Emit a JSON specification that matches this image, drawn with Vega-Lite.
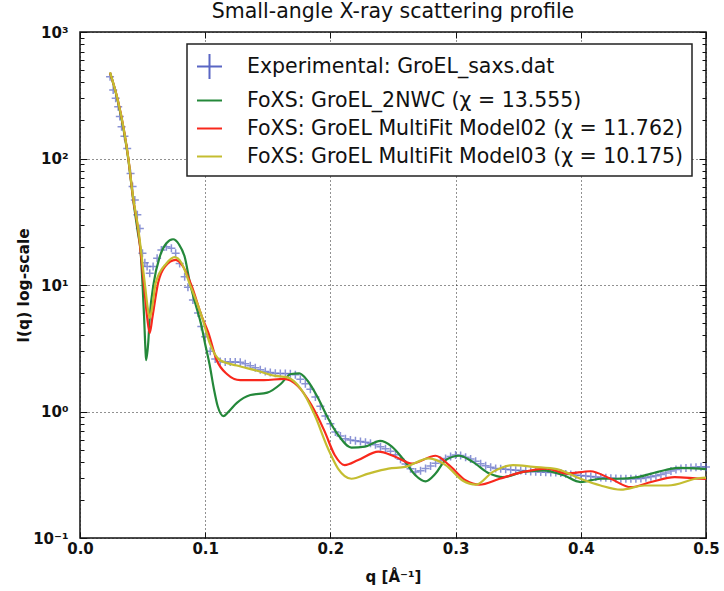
{
  "$schema": "https://vega.github.io/schema/vega-lite/v6.json",
  "width": 626,
  "height": 506,
  "autosize": "none",
  "padding": {"left": 80, "top": 32, "right": 18, "bottom": 53},
  "background": "white",
  "title": {"text": "Small-angle X-ray scattering profile", "fontSize": 20.5, "font": "DejaVu Sans", "fontWeight": "normal", "color": "#111", "anchor": "middle", "offset": 3},
  "data": {"values": [
    {"s":"exp","q":0.024,"I":443},{"s":"exp","q":0.0265,"I":348},{"s":"exp","q":0.0285,"I":300},{"s":"exp","q":0.0305,"I":257},{"s":"exp","q":0.0318,"I":215},{"s":"exp","q":0.0332,"I":178},{"s":"exp","q":0.0355,"I":150},{"s":"exp","q":0.0377,"I":120},{"s":"exp","q":0.0404,"I":76},{"s":"exp","q":0.042,"I":60},{"s":"exp","q":0.0438,"I":47},{"s":"exp","q":0.0458,"I":36},{"s":"exp","q":0.0478,"I":28},{"s":"exp","q":0.0499,"I":17.8},{"s":"exp","q":0.0518,"I":15},{"s":"exp","q":0.0536,"I":14},{"s":"exp","q":0.0557,"I":12.4},{"s":"exp","q":0.0584,"I":14},{"s":"exp","q":0.0616,"I":16.3},{"s":"exp","q":0.065,"I":18.9},{"s":"exp","q":0.069,"I":20.1},{"s":"exp","q":0.073,"I":19.5},{"s":"exp","q":0.0764,"I":17.8},{"s":"exp","q":0.0796,"I":14.8},{"s":"exp","q":0.0836,"I":11.6},{"s":"exp","q":0.0862,"I":9.6},{"s":"exp","q":0.0902,"I":7.6},{"s":"exp","q":0.0943,"I":6.0},{"s":"exp","q":0.0969,"I":4.7},
    {"s":"exp","q":0.100,"I":3.9},{"s":"exp","q":0.104,"I":3.0},{"s":"exp","q":0.108,"I":2.6},{"s":"exp","q":0.112,"I":2.48},{"s":"exp","q":0.116,"I":2.46},{"s":"exp","q":0.120,"I":2.46},{"s":"exp","q":0.124,"I":2.46},{"s":"exp","q":0.128,"I":2.45},{"s":"exp","q":0.132,"I":2.38},{"s":"exp","q":0.136,"I":2.3},{"s":"exp","q":0.140,"I":2.22},{"s":"exp","q":0.144,"I":2.14},{"s":"exp","q":0.148,"I":2.07},{"s":"exp","q":0.152,"I":2.03},{"s":"exp","q":0.156,"I":2.01},{"s":"exp","q":0.160,"I":2.0},{"s":"exp","q":0.164,"I":2.0},{"s":"exp","q":0.168,"I":1.99},{"s":"exp","q":0.172,"I":1.95},{"s":"exp","q":0.176,"I":1.8},{"s":"exp","q":0.180,"I":1.66},{"s":"exp","q":0.184,"I":1.5},{"s":"exp","q":0.188,"I":1.3},{"s":"exp","q":0.192,"I":1.1},{"s":"exp","q":0.196,"I":0.92},{"s":"exp","q":0.200,"I":0.8},{"s":"exp","q":0.204,"I":0.69},{"s":"exp","q":0.208,"I":0.64},{"s":"exp","q":0.212,"I":0.61},{"s":"exp","q":0.216,"I":0.595},{"s":"exp","q":0.220,"I":0.587},{"s":"exp","q":0.224,"I":0.58},{"s":"exp","q":0.228,"I":0.572},{"s":"exp","q":0.232,"I":0.56},{"s":"exp","q":0.236,"I":0.545},{"s":"exp","q":0.240,"I":0.527},{"s":"exp","q":0.244,"I":0.507},{"s":"exp","q":0.248,"I":0.485},{"s":"exp","q":0.252,"I":0.455},{"s":"exp","q":0.256,"I":0.42},{"s":"exp","q":0.260,"I":0.385},{"s":"exp","q":0.264,"I":0.352},{"s":"exp","q":0.268,"I":0.333},{"s":"exp","q":0.272,"I":0.34},{"s":"exp","q":0.276,"I":0.355},{"s":"exp","q":0.280,"I":0.37},{"s":"exp","q":0.284,"I":0.39},{"s":"exp","q":0.288,"I":0.41},{"s":"exp","q":0.292,"I":0.425},{"s":"exp","q":0.296,"I":0.44},{"s":"exp","q":0.300,"I":0.453},{"s":"exp","q":0.304,"I":0.448},{"s":"exp","q":0.308,"I":0.435},{"s":"exp","q":0.312,"I":0.422},{"s":"exp","q":0.316,"I":0.405},{"s":"exp","q":0.320,"I":0.386},{"s":"exp","q":0.324,"I":0.372},{"s":"exp","q":0.328,"I":0.362},{"s":"exp","q":0.332,"I":0.355},{"s":"exp","q":0.336,"I":0.352},{"s":"exp","q":0.340,"I":0.349},{"s":"exp","q":0.344,"I":0.346},{"s":"exp","q":0.348,"I":0.344},{"s":"exp","q":0.352,"I":0.341},{"s":"exp","q":0.356,"I":0.339},{"s":"exp","q":0.360,"I":0.336},{"s":"exp","q":0.364,"I":0.334},{"s":"exp","q":0.368,"I":0.332},{"s":"exp","q":0.372,"I":0.331},{"s":"exp","q":0.376,"I":0.33},{"s":"exp","q":0.380,"I":0.329},{"s":"exp","q":0.384,"I":0.326},{"s":"exp","q":0.388,"I":0.321},{"s":"exp","q":0.392,"I":0.317},{"s":"exp","q":0.396,"I":0.314},{"s":"exp","q":0.400,"I":0.312},{"s":"exp","q":0.404,"I":0.309},{"s":"exp","q":0.408,"I":0.306},{"s":"exp","q":0.412,"I":0.304},{"s":"exp","q":0.416,"I":0.301},{"s":"exp","q":0.420,"I":0.299},{"s":"exp","q":0.424,"I":0.297},{"s":"exp","q":0.428,"I":0.295},{"s":"exp","q":0.432,"I":0.294},{"s":"exp","q":0.436,"I":0.294},{"s":"exp","q":0.440,"I":0.294},{"s":"exp","q":0.444,"I":0.294},{"s":"exp","q":0.448,"I":0.296},{"s":"exp","q":0.452,"I":0.3},{"s":"exp","q":0.456,"I":0.305},{"s":"exp","q":0.460,"I":0.31},{"s":"exp","q":0.464,"I":0.317},{"s":"exp","q":0.468,"I":0.327},{"s":"exp","q":0.472,"I":0.338},{"s":"exp","q":0.476,"I":0.348},{"s":"exp","q":0.480,"I":0.355},{"s":"exp","q":0.484,"I":0.358},{"s":"exp","q":0.488,"I":0.361},{"s":"exp","q":0.492,"I":0.363},{"s":"exp","q":0.496,"I":0.365},{"s":"exp","q":0.500,"I":0.364},

    {"s":"g","q":0.024,"I":476},{"s":"g","q":0.030,"I":290},{"s":"g","q":0.035,"I":165},{"s":"g","q":0.0385,"I":100},{"s":"g","q":0.0425,"I":47},{"s":"g","q":0.0465,"I":25},{"s":"g","q":0.0483,"I":18.9},{"s":"g","q":0.0499,"I":10.4},{"s":"g","q":0.0512,"I":5.6},{"s":"g","q":0.0523,"I":3.06},{"s":"g","q":0.0528,"I":2.55},{"s":"g","q":0.0545,"I":3.5},{"s":"g","q":0.0557,"I":5.6},{"s":"g","q":0.0589,"I":10.4},{"s":"g","q":0.0637,"I":16.7},{"s":"g","q":0.069,"I":21.4},{"s":"g","q":0.0743,"I":23},{"s":"g","q":0.079,"I":21},{"s":"g","q":0.0836,"I":16.7},{"s":"g","q":0.088,"I":10.2},{"s":"g","q":0.092,"I":7.2},{"s":"g","q":0.0969,"I":4.8},{"s":"g","q":0.100,"I":3.4},{"s":"g","q":0.1035,"I":2.35},{"s":"g","q":0.107,"I":1.5},{"s":"g","q":0.110,"I":1.1},{"s":"g","q":0.1146,"I":0.92},{"s":"g","q":0.118,"I":0.98},{"s":"g","q":0.1253,"I":1.17},{"s":"g","q":0.1361,"I":1.35},{"s":"g","q":0.1496,"I":1.41},{"s":"g","q":0.1603,"I":1.65},{"s":"g","q":0.1684,"I":1.98},{"s":"g","q":0.1751,"I":2.0},{"s":"g","q":0.1818,"I":1.75},{"s":"g","q":0.1899,"I":1.29},{"s":"g","q":0.198,"I":0.89},{"s":"g","q":0.2061,"I":0.655},{"s":"g","q":0.2168,"I":0.519},{"s":"g","q":0.2276,"I":0.528},{"s":"g","q":0.2397,"I":0.586},{"s":"g","q":0.2491,"I":0.528},{"s":"g","q":0.2598,"I":0.40},{"s":"g","q":0.2679,"I":0.313},{"s":"g","q":0.276,"I":0.28},{"s":"g","q":0.284,"I":0.323},{"s":"g","q":0.2921,"I":0.413},{"s":"g","q":0.3029,"I":0.447},{"s":"g","q":0.3136,"I":0.40},{"s":"g","q":0.3271,"I":0.323},{"s":"g","q":0.3378,"I":0.303},{"s":"g","q":0.354,"I":0.333},{"s":"g","q":0.3701,"I":0.343},{"s":"g","q":0.3863,"I":0.313},{"s":"g","q":0.3997,"I":0.277},{"s":"g","q":0.4158,"I":0.294},{"s":"g","q":0.4293,"I":0.294},{"s":"g","q":0.4454,"I":0.303},{"s":"g","q":0.4616,"I":0.333},{"s":"g","q":0.4777,"I":0.358},{"s":"g","q":0.4952,"I":0.354},{"s":"g","q":0.500,"I":0.350},

    {"s":"r","q":0.024,"I":476},{"s":"r","q":0.030,"I":295},{"s":"r","q":0.035,"I":170},{"s":"r","q":0.0385,"I":102},{"s":"r","q":0.0425,"I":48},{"s":"r","q":0.0465,"I":27},{"s":"r","q":0.0509,"I":10.4},{"s":"r","q":0.0536,"I":5.6},{"s":"r","q":0.0557,"I":4.17},{"s":"r","q":0.0579,"I":5.6},{"s":"r","q":0.0624,"I":10.4},{"s":"r","q":0.0679,"I":14},{"s":"r","q":0.0764,"I":15.8},{"s":"r","q":0.0823,"I":14},{"s":"r","q":0.0889,"I":10},{"s":"r","q":0.0974,"I":5.6},{"s":"r","q":0.1025,"I":4.2},{"s":"r","q":0.1092,"I":2.54},{"s":"r","q":0.1173,"I":1.98},{"s":"r","q":0.128,"I":1.77},{"s":"r","q":0.1469,"I":1.77},{"s":"r","q":0.163,"I":1.81},{"s":"r","q":0.1737,"I":1.6},{"s":"r","q":0.1845,"I":1.14},{"s":"r","q":0.1953,"I":0.70},{"s":"r","q":0.2034,"I":0.453},{"s":"r","q":0.2114,"I":0.377},{"s":"r","q":0.2222,"I":0.413},{"s":"r","q":0.2383,"I":0.481},{"s":"r","q":0.2518,"I":0.439},{"s":"r","q":0.2652,"I":0.388},{"s":"r","q":0.284,"I":0.447},{"s":"r","q":0.2948,"I":0.377},{"s":"r","q":0.3082,"I":0.285},{"s":"r","q":0.319,"I":0.264},{"s":"r","q":0.3351,"I":0.294},{"s":"r","q":0.354,"I":0.333},{"s":"r","q":0.3728,"I":0.354},{"s":"r","q":0.3889,"I":0.323},{"s":"r","q":0.4077,"I":0.337},{"s":"r","q":0.4239,"I":0.294},{"s":"r","q":0.44,"I":0.252},{"s":"r","q":0.4562,"I":0.277},{"s":"r","q":0.475,"I":0.303},{"s":"r","q":0.4952,"I":0.294},{"s":"r","q":0.5,"I":0.293},

    {"s":"y","q":0.024,"I":480},{"s":"y","q":0.030,"I":295},{"s":"y","q":0.035,"I":170},{"s":"y","q":0.0385,"I":102},{"s":"y","q":0.0425,"I":49},{"s":"y","q":0.0465,"I":28},{"s":"y","q":0.0517,"I":10.4},{"s":"y","q":0.0544,"I":6.3},{"s":"y","q":0.0557,"I":5.5},{"s":"y","q":0.0575,"I":6.5},{"s":"y","q":0.0605,"I":10.4},{"s":"y","q":0.069,"I":14.8},{"s":"y","q":0.0755,"I":16.6},{"s":"y","q":0.081,"I":15},{"s":"y","q":0.0873,"I":10.4},{"s":"y","q":0.0974,"I":5.6},{"s":"y","q":0.1038,"I":3.44},{"s":"y","q":0.1119,"I":2.54},{"s":"y","q":0.1253,"I":2.31},{"s":"y","q":0.1415,"I":2.1},{"s":"y","q":0.155,"I":1.92},{"s":"y","q":0.1657,"I":1.86},{"s":"y","q":0.1765,"I":1.5},{"s":"y","q":0.1872,"I":0.95},{"s":"y","q":0.198,"I":0.512},{"s":"y","q":0.2061,"I":0.354},{"s":"y","q":0.2168,"I":0.294},{"s":"y","q":0.2303,"I":0.323},{"s":"y","q":0.2464,"I":0.354},{"s":"y","q":0.2598,"I":0.365},{"s":"y","q":0.2787,"I":0.426},{"s":"y","q":0.2921,"I":0.377},{"s":"y","q":0.3055,"I":0.285},{"s":"y","q":0.3163,"I":0.264},{"s":"y","q":0.3297,"I":0.333},{"s":"y","q":0.3459,"I":0.377},{"s":"y","q":0.362,"I":0.365},{"s":"y","q":0.3808,"I":0.35},{"s":"y","q":0.3997,"I":0.294},{"s":"y","q":0.4158,"I":0.26},{"s":"y","q":0.432,"I":0.241},{"s":"y","q":0.4508,"I":0.26},{"s":"y","q":0.4696,"I":0.26},{"s":"y","q":0.4952,"I":0.298},{"s":"y","q":0.5,"I":0.30}
  ]},
  "layer": [
    {
      "transform": [{"filter": "datum.s == 'exp'"}],
      "mark": {"type": "point", "filled": false, "size": 64, "strokeWidth": 1.5, "opacity": 0.7},
      "encoding": {
        "x": {"field": "q", "type": "quantitative", "scale": {"domain": [0, 0.5], "nice": false, "zero": false},
          "axis": {"orient": "bottom", "values": [0, 0.1, 0.2, 0.3, 0.4, 0.5], "format": ".1f", "title": "q [Å⁻¹]", "tickSize": -6, "labelPadding": 9, "labelFlush": false, "grid": true, "titlePadding": 13}},
        "y": {"field": "I", "type": "quantitative", "scale": {"type": "log", "domain": [0.1, 1000], "nice": false},
          "axis": {"orient": "left", "values": [0.1,0.2,0.3,0.4,0.5,0.6,0.7,0.8,0.9,1,2,3,4,5,6,7,8,9,10,20,30,40,50,60,70,80,90,100,200,300,400,500,600,700,800,900,1000],
            "labelExpr": "datum.value == 1000 ? '10³' : datum.value == 100 ? '10²' : datum.value == 10 ? '10¹' : datum.value == 1 ? '10⁰' : datum.value == 0.1 ? '10⁻¹' : ''",
            "labelOverlap": false, "title": "I(q) log-scale", "titleFontSize": 15.5, "titlePadding": 1, "labelPadding": 19,
            "tickSize": {"condition": {"test": "indexof([0.1,1,10,100,1000], datum.value) >= 0", "value": -7}, "value": -4},
            "grid": true,
            "gridOpacity": {"condition": {"test": "indexof([0.1,1,10,100,1000], datum.value) >= 0", "value": 1}, "value": 0}}},
        "color": {"field": "s", "type": "nominal",
          "scale": {"domain": ["exp", "g", "r", "y"], "range": ["#5a66c4", "#24883a", "#f8281c", "#c4bd30"]},
          "legend": {
            "title": null, "orient": "none", "legendX": 107, "legendY": 12, "symbolOpacity": 1,
            "labelExpr": "datum.value == 'exp' ? 'Experimental: GroEL_saxs.dat' : datum.value == 'g' ? 'FoXS: GroEL_2NWC (χ = 13.555)' : datum.value == 'r' ? 'FoXS: GroEL MultiFit Model02 (χ = 11.762)' : 'FoXS: GroEL MultiFit Model03 (χ = 10.175)'"
          }},
        "shape": {"field": "s", "type": "nominal",
          "scale": {"domain": ["exp", "g", "r", "y"], "range": ["M-1,0H1M0,-1V1", "stroke", "stroke", "stroke"]},
          "legend": {
            "title": null, "orient": "none", "legendX": 107, "legendY": 12, "symbolOpacity": 1,
            "labelExpr": "datum.value == 'exp' ? 'Experimental: GroEL_saxs.dat' : datum.value == 'g' ? 'FoXS: GroEL_2NWC (χ = 13.555)' : datum.value == 'r' ? 'FoXS: GroEL MultiFit Model02 (χ = 11.762)' : 'FoXS: GroEL MultiFit Model03 (χ = 10.175)'"
          }}
      }
    },
    {
      "transform": [{"filter": "datum.s != 'exp'"}],
      "mark": {"type": "line", "strokeWidth": 2.2, "interpolate": "monotone"},
      "encoding": {
        "x": {"field": "q", "type": "quantitative", "scale": {"domain": [0, 0.5], "nice": false, "zero": false},
          "axis": {"orient": "top", "values": [0, 0.1, 0.2, 0.3, 0.4, 0.5], "labels": false, "title": null, "tickSize": -6, "grid": false}},
        "y": {"field": "I", "type": "quantitative", "scale": {"type": "log", "domain": [0.1, 1000], "nice": false},
          "axis": {"orient": "right", "values": [0.1,0.2,0.3,0.4,0.5,0.6,0.7,0.8,0.9,1,2,3,4,5,6,7,8,9,10,20,30,40,50,60,70,80,90,100,200,300,400,500,600,700,800,900,1000],
            "labels": false, "title": null, "grid": false,
            "tickSize": {"condition": {"test": "indexof([0.1,1,10,100,1000], datum.value) >= 0", "value": -7}, "value": -4}}},
        "color": {"field": "s", "type": "nominal", "legend": null}
      }
    }
  ],
  "resolve": {"axis": {"x": "independent", "y": "independent"}},
  "config": {
    "font": "DejaVu Sans",
    "view": {"stroke": "#111", "strokeWidth": 1.5},
    "axis": {"labelFont": "DejaVu Sans", "labelFontSize": 15, "labelFontWeight": "bold", "labelColor": "#111", "titleFont": "DejaVu Sans", "titleFontSize": 15, "titleFontWeight": "bold", "titleColor": "#111", "domain": false, "tickColor": "#111", "tickWidth": 1, "gridColor": "#222", "gridDash": [1, 3], "gridWidth": 1},
    "legend": {"labelFont": "DejaVu Sans", "labelFontSize": 20.5, "labelColor": "#111", "symbolSize": 625, "symbolStrokeWidth": 2, "labelOffset": 24, "padding": 9, "rowPadding": 4, "strokeColor": "#222", "strokeWidth": 1.5, "fillColor": "white", "labelLimit": 700}
  }
}
